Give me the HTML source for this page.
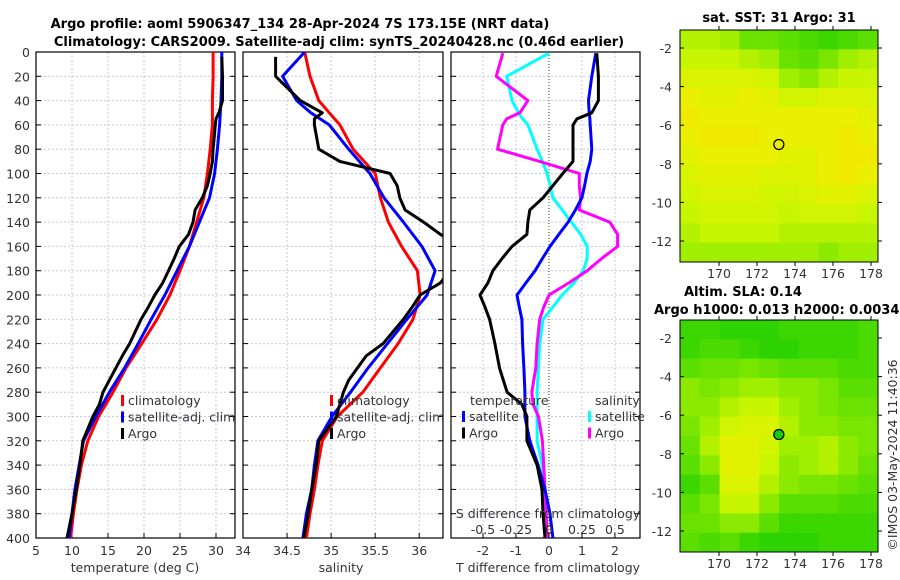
<!DOCTYPE html>
<html><head><meta charset="utf-8">
<style>
body{margin:0;background:#fff;}
svg{display:block;font-family:"DejaVu Sans","Liberation Sans",sans-serif;}
.t{font-size:12.5px;fill:#333;}
.b{font-size:13px;font-weight:bold;fill:#000;}
</style></head>
<body>
<svg id="fig" width="900" height="580" viewBox="0 0 900 580" xmlns="http://www.w3.org/2000/svg">
<text class="b" x="300" y="28" text-anchor="middle">Argo profile: aoml 5906347_134 28-Apr-2024 7S 173.15E (NRT data)</text>
<text class="b" x="339" y="46" text-anchor="middle">Climatology: CARS2009. Satellite-adj clim: synTS_20240428.nc (0.46d earlier)</text>
<g id="g"></g>
</svg>
<script>
// ---- data ----
const tDepth=[0,20,40,50,60,80,100,120,140,160,180,200,220,240,260,280,300,320,340,360,380,400];
const tClim=[29.6,29.6,29.5,29.5,29.5,29.2,28.8,28.3,27.3,26.3,25.0,23.6,21.8,19.7,17.5,15.7,13.7,12.2,11.3,10.7,10.2,9.8];
const tSat=[30.8,30.8,30.7,30.6,30.5,30.2,29.8,29.1,27.7,26.3,24.6,22.9,21.0,19.2,17.3,15.2,13.3,11.6,11.0,10.4,10.0,9.6];
const argoDepth=[4,20,40,50,55,60,80,90,100,110,120,130,140,150,160,170,180,190,200,210,220,240,250,260,270,280,290,300,320,340,360,380,400];
const tArgo=[30.8,30.9,30.9,30.4,30.0,29.9,29.6,29.5,29.2,28.8,28.1,27.1,26.8,26.2,24.9,24.2,23.4,22.6,21.5,20.6,19.6,18.0,17.0,16.1,15.2,14.3,13.8,12.9,11.5,11.1,10.6,10.0,9.3];
const sClim=[34.70,34.76,34.86,34.98,35.10,35.25,35.50,35.56,35.65,35.80,35.98,36.01,35.93,35.76,35.56,35.36,35.07,34.90,34.85,34.81,34.76,34.72];
const sSat=[34.70,34.45,34.61,34.77,34.98,35.20,35.44,35.60,35.82,36.03,36.18,36.09,35.86,35.64,35.42,35.22,35.01,34.85,34.81,34.78,34.72,34.68];
const sArgo=[34.37,34.37,34.65,34.90,34.81,34.81,34.86,35.10,35.67,35.75,35.78,35.84,36.05,36.24,36.45,36.5,36.35,36.24,36.01,35.92,35.82,35.59,35.40,35.30,35.20,35.14,35.10,35.06,34.86,34.83,34.78,34.74,34.69];
const dDepth=[1,20,40,50,55,60,80,90,100,110,120,130,140,150,160,170,180,190,200,210,220,240,260,280,290,300,320,340,360,380,400];
const dTSat=[1.42,1.30,1.20,1.22,1.24,1.25,1.30,1.25,1.15,1.08,1.00,0.80,0.58,0.30,0.03,-0.20,-0.42,-0.70,-0.97,-0.90,-0.82,-0.80,-0.76,-0.73,-0.73,-0.73,-0.58,-0.33,-0.12,0.03,0.12];
const dTArgo=[1.45,1.50,1.50,1.30,0.85,0.73,0.73,0.73,0.42,0.12,-0.18,-0.58,-0.64,-0.67,-1.12,-1.42,-1.70,-1.85,-2.09,-1.94,-1.80,-1.64,-1.50,-1.27,-0.82,-0.67,-0.67,-0.36,-0.21,-0.18,-0.12];
const dSSat=[0.0,-0.32,-0.28,-0.23,-0.20,-0.16,-0.09,-0.05,-0.015,0.01,0.03,0.10,0.17,0.24,0.29,0.29,0.26,0.19,0.10,0.03,-0.045,-0.07,-0.08,-0.09,-0.09,-0.09,-0.09,-0.05,-0.03,-0.03,-0.02];
const dSArgo=[-0.35,-0.40,-0.16,-0.22,-0.32,-0.35,-0.39,-0.07,0.23,0.23,0.24,0.23,0.46,0.52,0.52,0.40,0.29,0.15,0.0,-0.04,-0.07,-0.09,-0.10,-0.13,-0.12,-0.08,-0.05,-0.04,-0.03,-0.02,-0.015];
const depthTicks=[0,20,40,60,80,100,120,140,160,180,200,220,240,260,280,300,320,340,360,380,400];
const tTicks=[5,10,15,20,25,30];
const sTicks=[34,34.5,35,35.5,36];
const dtTicks=[-2,-1,0,1,2];
const dsTicks=[-0.5,-0.25,0,0.25,0.5];
const latTicks=[-2,-4,-6,-8,-10,-12];
const lonTicks=[170,172,174,176,178];
const argoLon=173.15, argoLat=-7;
const sstGrid=[
[0.55,0.55,0.5,0.35,0.35,0.3,0.25,0.2,0.25,0.3],
[0.6,0.6,0.6,0.55,0.5,0.35,0.3,0.4,0.5,0.55],
[0.7,0.7,0.7,0.7,0.65,0.5,0.45,0.55,0.6,0.6],
[0.8,0.75,0.75,0.8,0.75,0.65,0.65,0.7,0.7,0.7],
[0.85,0.8,0.8,0.8,0.8,0.8,0.8,0.8,0.8,0.75],
[0.8,0.85,0.85,0.85,0.8,0.8,0.8,0.8,0.85,0.8],
[0.75,0.8,0.8,0.8,0.8,0.75,0.75,0.8,0.85,0.85],
[0.7,0.75,0.75,0.75,0.7,0.7,0.75,0.8,0.85,0.8],
[0.65,0.7,0.7,0.7,0.65,0.65,0.7,0.75,0.75,0.7],
[0.6,0.65,0.65,0.65,0.65,0.6,0.65,0.65,0.65,0.6],
[0.55,0.6,0.6,0.6,0.6,0.55,0.55,0.55,0.55,0.55],
[0.5,0.5,0.5,0.5,0.5,0.5,0.5,0.45,0.5,0.5]];
const slaGrid=[
[0.2,0.2,0.15,0.15,0.15,0.2,0.2,0.2,0.2,0.25],
[0.2,0.25,0.25,0.2,0.15,0.15,0.2,0.2,0.2,0.25],
[0.3,0.35,0.35,0.4,0.35,0.3,0.3,0.3,0.25,0.25],
[0.45,0.4,0.45,0.5,0.5,0.45,0.45,0.4,0.3,0.3],
[0.45,0.45,0.55,0.6,0.6,0.5,0.45,0.4,0.35,0.35],
[0.4,0.5,0.65,0.7,0.7,0.55,0.45,0.45,0.4,0.4],
[0.35,0.55,0.75,0.75,0.65,0.5,0.5,0.55,0.45,0.4],
[0.3,0.45,0.75,0.75,0.6,0.45,0.5,0.55,0.45,0.35],
[0.2,0.3,0.7,0.7,0.55,0.45,0.4,0.4,0.35,0.3],
[0.3,0.4,0.6,0.6,0.45,0.3,0.3,0.3,0.25,0.25],
[0.35,0.35,0.45,0.45,0.3,0.2,0.2,0.2,0.2,0.2],
[0.3,0.25,0.3,0.2,0.15,0.15,0.15,0.2,0.2,0.2]];

const NS='http://www.w3.org/2000/svg';
const G=document.getElementById('g');
function mk(tag,attrs,parent){const e=document.createElementNS(NS,tag);for(const k in attrs)e.setAttribute(k,attrs[k]);(parent||G).appendChild(e);return e;}
function txt(s,x,y,anchor,cls,parent){const e=mk('text',{x:x,y:y,'text-anchor':anchor||'middle',class:cls||'t'},parent);e.textContent=s;return e;}

const Y0=52,Y1=538;
const yD=d=>Y0+(d/400)*(Y1-Y0);
const panels=[
 {x0:36,x1:235,lo:5,hi:32.64,name:'temperature'},
 {x0:243,x1:443,lo:34,hi:36.27,name:'salinity'},
 {x0:451,x1:640,lo:-2.97,hi:2.76,name:'difference'}];
const xS=(p,v)=>p.x0+(v-p.lo)/(p.hi-p.lo)*(p.x1-p.x0);

panels.forEach((p,i)=>{
 const g=mk('g',{});
 
 
 const cp=mk('clipPath',{id:'cp'+i},g);mk('rect',{x:p.x0,y:Y0,width:p.x1-p.x0,height:Y1-Y0},cp);
 depthTicks.forEach(d=>{
  const l=mk('line',{x1:p.x0,x2:p.x1,y1:yD(d),y2:yD(d),stroke:'#c4c8e4','stroke-width':1,'stroke-dasharray':'2,2'},g);
  
  mk('line',{x1:p.x0,x2:p.x0+5,y1:yD(d),y2:yD(d),stroke:'#000'},g);
  mk('line',{x1:p.x1,x2:p.x1-5,y1:yD(d),y2:yD(d),stroke:'#000'},g);
 });
 const vt=i==0?tTicks:(i==1?sTicks:dtTicks);
 vt.forEach(v=>{const x=xS(p,v);
  if(i==2&&v==0){mk('line',{x1:x,x2:x,y1:Y0,y2:Y1,stroke:'#556b2f','stroke-width':1.2,'stroke-dasharray':'1,2'},g);}
  else mk('line',{x1:x,x2:x,y1:Y0,y2:Y1,stroke:'#c4c8e4','stroke-width':1,'stroke-dasharray':'2,2'},g);
  mk('line',{x1:x,x2:x,y1:Y1,y2:Y1-5,stroke:'#000'},g);
  const lb=txt(String(v),x,555,'middle','t',g);
  
 });
 mk('rect',{x:p.x0,y:Y0,width:p.x1-p.x0,height:Y1-Y0,fill:'none',stroke:'#000','stroke-width':1.2},g);
 p.g=g;
});
depthTicks.forEach(d=>{const e=txt(String(d),30,yD(d)+5,'end');});

function line(p,i,vals,depths,color,name,xf){
 const pts=vals.map((v,k)=>(xf?xf(v):xS(p,v)).toFixed(1)+','+yD(depths[k]).toFixed(1)).join(' ');
 const e=mk('polyline',{points:pts,fill:'none',stroke:color,'stroke-width':3,'stroke-linejoin':'round','clip-path':'url(#cp'+i+')'},p.g);
 
 
}
const P=panels;
line(P[0],0,tClim,tDepth,'#ff0000','temp-climatology-line');
line(P[0],0,tSat,tDepth,'#0000ff','temp-satellite-line');
line(P[0],0,tArgo,argoDepth,'#000','temp-argo-line');
line(P[1],1,sClim,tDepth,'#ff0000','sal-climatology-line');
line(P[1],1,sSat,tDepth,'#0000ff','sal-satellite-line');
line(P[1],1,sArgo,argoDepth,'#000','sal-argo-line');
const x0d=xS(P[2],0),ppT=(P[2].x1-P[2].x0)/(P[2].hi-P[2].lo);
const xsd=v=>x0d+v*4*ppT;
line(P[2],2,dSSat,dDepth,'#00ffff','sdiff-satellite-line',xsd);
line(P[2],2,dSArgo,dDepth,'#ff00ff','sdiff-argo-line',xsd);
line(P[2],2,dTSat,dDepth,'#0000ff','tdiff-satellite-line');
line(P[2],2,dTArgo,dDepth,'#000','tdiff-argo-line');

function legend(x,y,items,name){
 const g=mk('g',{});
 items.forEach((it,k)=>{const yy=y+k*16.5;
  if(it[1])mk('rect',{x:x,y:yy-10,width:3,height:11,fill:it[1]},g);
  txt(it[0],x+(it[1]?7:0),yy,'start','t',g);});
}
legend(121,405,[['climatology','#ff0000'],['satellite-adj. clim','#0000ff'],['Argo','#000']],'temp-legend');
legend(330,405,[['climatology','#ff0000'],['satellite-adj. clim','#0000ff'],['Argo','#000']],'sal-legend');
legend(470,405,[['temperature',null]],'tdiff-legend-title');
legend(462,421,[['satellite','#0000ff'],['Argo','#000']],'tdiff-legend');
legend(595,405,[['salinity',null]],'sdiff-legend-title');
legend(588,421,[['satellite','#00ffff'],['Argo','#ff00ff']],'sdiff-legend');
dsTicks.forEach(v=>{const e=txt(String(v),xsd(v),534,'middle');});
let e;
e=txt('S difference from climatology',548,518,'middle');
e=txt('temperature (deg C)',135,572,'middle');
e=txt('salinity',341,572,'middle');
e=txt('T difference from climatology',548,572,'middle');

const stops=[[0,[0,200,0]],[0.4,[120,230,0]],[0.6,[200,245,0]],[0.8,[235,240,0]],[1,[250,215,0]]];
function cmap(v){for(let k=1;k<stops.length;k++){if(v<=stops[k][0]){const a=stops[k-1],b=stops[k],t=(v-a[0])/(b[0]-a[0]);return 'rgb('+a[1].map((c,j)=>Math.round(c+(b[1][j]-c)*t)).join(',')+')';}}return 'rgb(250,215,0)';}
function map(y0,grid,name,filled,titles){
 const X0=680,X1=878,Y1m=y0+232;
 const g=mk('g',{});
 const lonX=lon=>681+(lon-168)*19, latY=lat=>y0+18+(-2-lat)*19.3;
 const rows=grid.length,cols=grid[0].length,cw=(X1-X0)/cols,ch=(Y1m-y0)/rows;
 grid.forEach((r,ri)=>r.forEach((v,ci)=>{
  const c=mk('rect',{x:X0+ci*cw,y:y0+ri*ch,width:cw+0.5,height:ch+0.5,fill:cmap(v)},g);
  
 }));
 latTicks.forEach(l=>{const y=latY(l);mk('line',{x1:X0,x2:X0+4,y1:y,y2:y,stroke:'#000'},g);mk('line',{x1:X1,x2:X1+4,y1:y,y2:y,stroke:'#000'},g);txt(String(l),672,y+5,'end','t',g);});
 lonTicks.forEach(l=>{const x=lonX(l);mk('line',{x1:x,x2:x,y1:y0,y2:y0-4,stroke:'#000'},g);mk('line',{x1:x,x2:x,y1:Y1m,y2:Y1m+4,stroke:'#000'},g);txt(String(l),x,Y1m+16,'middle','t',g);});
 mk('rect',{x:X0,y:y0,width:X1-X0,height:Y1m-y0,fill:'none',stroke:'#000','stroke-width':1},g);
 const c=mk('circle',{cx:lonX(argoLon),cy:latY(argoLat),r:5,fill:filled?'#10d010':'none',stroke:'#000','stroke-width':1.3},g);
 
 titles.forEach(t=>{const e=txt(t[0],t[1],t[2],t[3],'b',g);});
}
map(30,sstGrid,'sst-map',false,[['sat. SST: 31 Argo: 31',779,22,'middle']]);
map(320,slaGrid,'sla-map',true,[['Altim. SLA: 0.14',684,296,'start'],['Argo h1000: 0.013 h2000: 0.0034',654,314,'start']]);
e=txt('©IMOS 03-May-2024 11:40:36',0,0,'middle');
e.setAttribute('transform','translate(897,455) rotate(-90)');

</script>
</body></html>
